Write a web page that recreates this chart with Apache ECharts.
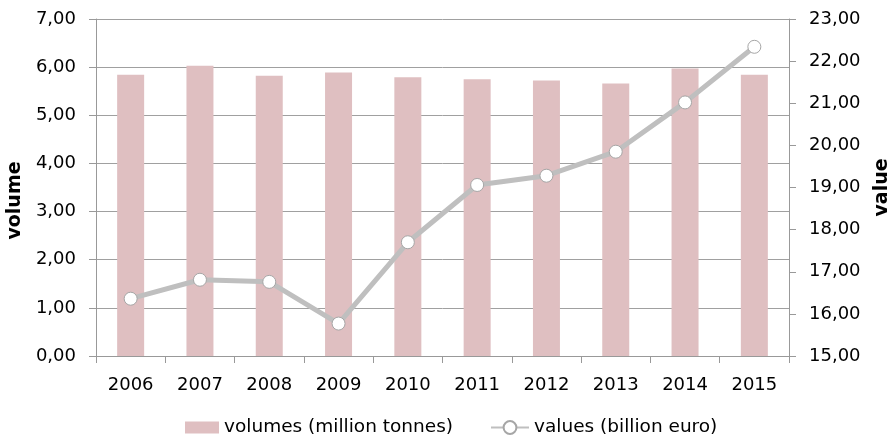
<!DOCTYPE html>
<html><head><meta charset="utf-8">
<script src="https://cdn.jsdelivr.net/npm/echarts@6/dist/echarts.min.js"></script>
<style>html,body{margin:0;padding:0;background:#fff}#c{width:893px;height:444px}</style>
</head><body><div id="c"></div>
<script>
const years = ['2006','2007','2008','2009','2010','2011','2012','2013','2014','2015'];
const volumes = [5.84, 6.03, 5.82, 5.89, 5.79, 5.75, 5.72, 5.66, 5.97, 5.84];
const values = [16.36, 16.81, 16.76, 15.77, 17.70, 19.06, 19.28, 19.85, 21.02, 22.34];
const volumeName = 'volumes (million tonnes)';
const valueName = 'values (billion euro)';
const fmt = v => v.toFixed(2).replace('.', ',');
const font = 'DejaVu Sans';
const legendText = {fontFamily:font, fontSize:18.5, color:'#000'};
const chart = echarts.init(document.getElementById('c'), null, {renderer:'canvas'});
chart.setOption({
  animation:false,
  backgroundColor:'#fff',
  textStyle:{fontFamily:font},
  grid:{left:96, right:104, top:19, bottom:88, containLabel:false, outerBoundsMode:'none'},
  legend:[{
    left:185, top:418, padding:0, itemWidth:34, itemHeight:16,
    textStyle:legendText,
    data:[{name:volumeName, icon:'path://M0,0h0.01M0,16h0.01M0,2h34v12h-34z'}]
  },{
    left:490, top:418, padding:0, itemWidth:38, itemHeight:16,
    textStyle:legendText,
    data:[{name:valueName}]
  }],
  xAxis:{
    type:'category', data:years, boundaryGap:true,
    axisLine:{lineStyle:{color:'#999', width:1}},
    axisTick:{show:true, length:7, lineStyle:{color:'#999'}},
    axisLabel:{fontFamily:font, fontSize:18, color:'#000', margin:20}
  },
  yAxis:[{
    type:'value', min:0, max:7, interval:1, position:'left',
    name:'volume', nameLocation:'middle', nameRotate:90, nameGap:66,
    nameTextStyle:{fontFamily:font, fontSize:19, fontWeight:'bold', color:'#000', padding:[0,26,0,0]},
    axisLine:{show:true, lineStyle:{color:'#999'}},
    axisTick:{show:true, length:7, lineStyle:{color:'#999'}},
    axisLabel:{fontFamily:font, fontSize:18, color:'#000', margin:20, formatter:fmt},
    splitLine:{show:true, lineStyle:{color:'#a0a0a0', width:1}}
  },{
    type:'value', min:15, max:23, interval:1, position:'right',
    name:'value', nameLocation:'middle', nameRotate:90, nameGap:84,
    nameTextStyle:{fontFamily:font, fontSize:19, fontWeight:'bold', color:'#000'},
    axisLine:{show:true, lineStyle:{color:'#999'}},
    axisTick:{show:true, length:7, lineStyle:{color:'#999'}},
    axisLabel:{fontFamily:font, fontSize:18, color:'#000', margin:20, formatter:fmt},
    splitLine:{show:false}
  }],
  series:[{
    name:volumeName, type:'bar', yAxisIndex:0, data:volumes, barWidth:27,
    itemStyle:{color:'#dfbfc1'}
  },{
    name:valueName, type:'line', yAxisIndex:1, data:values,
    symbol:'circle', symbolSize:13,
    lineStyle:{color:'#bfbfbf', width:5},
    itemStyle:{color:'#fff', borderColor:'#a6a6a6', borderWidth:1}
  }]
});
</script></body></html>
